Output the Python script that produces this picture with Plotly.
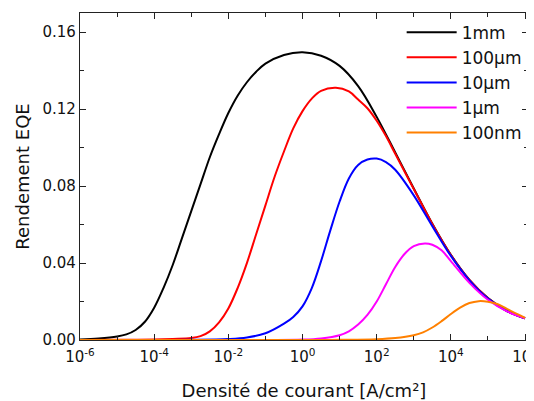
import plotly.graph_objects as go

# current density exponents (log10 of J in A/cm^2) and EQE values
exp_1mm = [-6.0, -5.5, -5.0, -4.75, -4.5, -4.25, -4.0, -3.75, -3.5, -3.25, -3.0, -2.75,
           -2.5, -2.25, -2.0, -1.75, -1.5, -1.25, -1.0, -0.5, 0.0, 0.5, 1.0, 1.5, 2.0,
           2.5, 3.0, 3.5, 4.0, 4.5, 5.0, 5.5, 6.0]
eqe_1mm = [0.0003, 0.0008, 0.0018, 0.0029, 0.0052, 0.0095, 0.0168, 0.027, 0.039, 0.053,
           0.067, 0.081, 0.095, 0.107, 0.118, 0.127, 0.134, 0.1395, 0.1437, 0.1482,
           0.1496, 0.1478, 0.1425, 0.132, 0.116, 0.0975, 0.0788, 0.0605, 0.0443,
           0.0313, 0.0218, 0.0153, 0.0113]

exp_100um = [-6.0, -5.0, -4.0, -3.5, -3.0, -2.75, -2.5, -2.25, -2.0, -1.75, -1.5, -1.25,
             -1.0, -0.75, -0.5, -0.25, 0.0, 0.25, 0.5, 0.9, 1.25, 1.5, 1.75, 2.0, 2.25,
             2.5, 3.0, 3.5, 4.0, 4.5, 5.0, 5.5, 6.0]
eqe_100um = [0.0, 0.0001, 0.0002, 0.0005, 0.001, 0.002, 0.0045, 0.0092, 0.0164, 0.027,
             0.04, 0.055, 0.070, 0.085, 0.098, 0.110, 0.119, 0.1255, 0.1295, 0.1311,
             0.1292, 0.125, 0.1205, 0.114, 0.106, 0.0968, 0.0785, 0.0603, 0.0442,
             0.0312, 0.0217, 0.0152, 0.0113]

exp_10um = [-6.0, -3.0, -2.0, -1.5, -1.0, -0.5, -0.25, 0.0, 0.25, 0.5, 0.75, 1.0, 1.25,
            1.5, 1.75, 2.0, 2.25, 2.5, 3.0, 3.5, 4.0, 4.5, 5.0, 5.5, 6.0]
eqe_10um = [0.0, 0.0001, 0.0005, 0.0013, 0.0035, 0.0085, 0.012, 0.0175, 0.027, 0.041,
            0.057, 0.072, 0.084, 0.091, 0.0938, 0.0943, 0.0925, 0.0885, 0.0752, 0.0592,
            0.0437, 0.031, 0.0215, 0.0152, 0.0113]

exp_1um = [-6.0, -1.0, 0.0, 0.5, 1.0, 1.25, 1.5, 1.75, 2.0, 2.25, 2.5, 2.75, 3.0, 3.3,
           3.5, 3.75, 4.0, 4.5, 5.0, 5.5, 6.0]
eqe_1um = [0.0, 0.0, 0.0002, 0.0008, 0.0025, 0.0045, 0.008, 0.013, 0.02, 0.029, 0.038,
           0.0447, 0.0488, 0.0502, 0.0495, 0.0466, 0.041, 0.0297, 0.0209, 0.015, 0.0113]

exp_100nm = [-6.0, 0.0, 1.0, 2.0, 2.5, 3.0, 3.25, 3.5, 3.75, 4.0, 4.25, 4.5, 4.75, 5.0,
             5.25, 5.5, 5.75, 6.0]
eqe_100nm = [0.0, 0.0, 0.0001, 0.0004, 0.001, 0.0025, 0.004, 0.0065, 0.0098, 0.0135,
             0.0168, 0.0192, 0.0202, 0.0199, 0.0187, 0.0163, 0.0138, 0.0115]

names = ["1mm", "100µm", "10µm", "1µm", "100nm"]
colors = ["#000000", "#ff0000", "#0000ff", "#ff00ff", "#ff8000"]
series = [(exp_1mm, eqe_1mm), (exp_100um, eqe_100um), (exp_10um, eqe_10um),
          (exp_1um, eqe_1um), (exp_100nm, eqe_100nm)]

x_major_exp = [-6, -4, -2, 0, 2, 4, 6]
x_minor_exp = [-5, -3, -1, 1, 3, 5]
y_major = [0.0, 0.04, 0.08, 0.12, 0.16]
y_minor = [0.02, 0.06, 0.10, 0.14]

FONT = "DejaVu Sans, Liberation Sans, Arial, sans-serif"

fig = go.Figure()
for (ex, ey), name, col in zip(series, names, colors):
    fig.add_trace(go.Scatter(
        x=[10 ** e for e in ex], y=ey, mode="lines", name=name,
        line=dict(color=col, width=2, shape="spline", smoothing=1.0),
    ))

axis_common = dict(
    showline=True, linecolor="#222", linewidth=1.3, mirror="ticks",
    ticks="inside", ticklen=6, tickwidth=1.2, tickcolor="#222",
    showgrid=False, zeroline=False, automargin=False,
    tickfont=dict(family=FONT, size=15, color="#111"),
)

fig.update_xaxes(
    type="log", range=[-6, 6.08],
    tickmode="array", tickvals=[10 ** e for e in x_major_exp],
    ticktext=["10<sup>%s</sup>" % e for e in x_major_exp],
    ticklabeloverflow="allow", ticklabelstandoff=3,
    minor=dict(tickmode="array", tickvals=[10 ** e for e in x_minor_exp],
               ticks="inside", ticklen=4, tickcolor="#222", tickwidth=1.2),
    title=dict(text="Densité de courant [A/cm²]", font=dict(family=FONT, size=18, color="#111"),
               standoff=20),
    **axis_common,
)
fig.update_yaxes(
    range=[0, 0.17],
    tickmode="array", tickvals=y_major, ticktext=["%.2f" % v for v in y_major],
    minor=dict(tickmode="array", tickvals=y_minor,
               ticks="inside", ticklen=4, tickcolor="#222", tickwidth=1.2),
    title=dict(text="Rendement EQE", font=dict(family=FONT, size=18, color="#111"),
               standoff=8),
    **axis_common,
)

fig.update_layout(
    width=526, height=393,
    margin=dict(l=72, r=6, t=5, b=61),
    plot_bgcolor="white", paper_bgcolor="white",
    font=dict(family=FONT, color="#111"),
    showlegend=True,
    legend=dict(x=0.718, y=0.995, xanchor="left", yanchor="top",
                bgcolor="rgba(0,0,0,0)", font=dict(family=FONT, size=17),
                tracegroupgap=0, itemwidth=50),
)

fig.write_html("out.html")
